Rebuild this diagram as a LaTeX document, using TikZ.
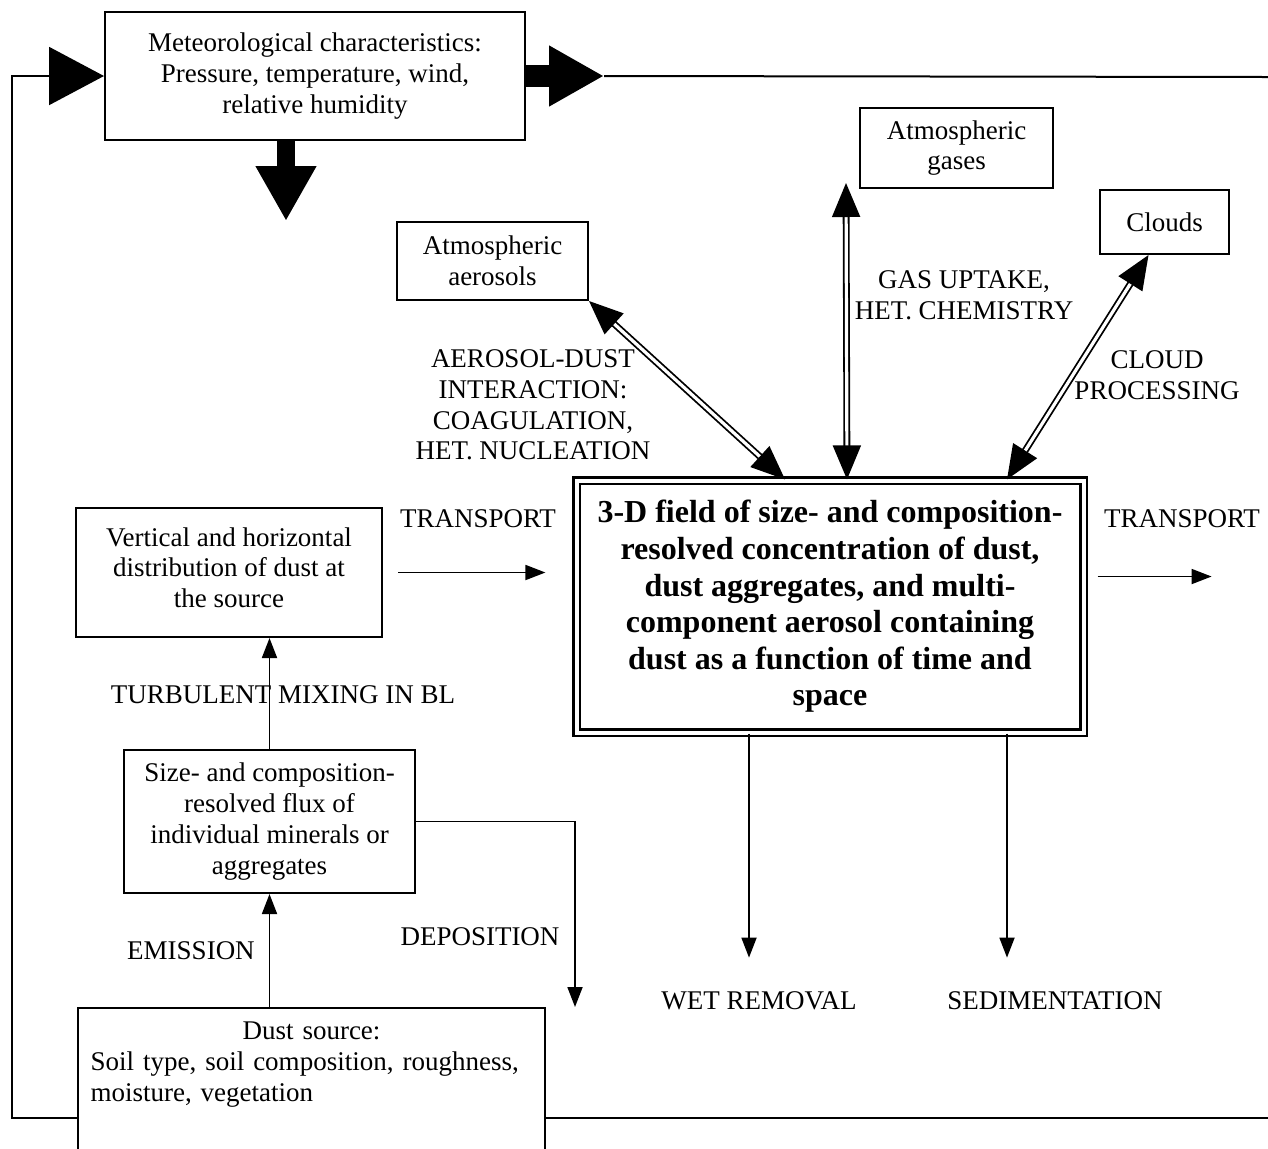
\documentclass[tikz,border=0pt]{standalone}
\usepackage{fontspec}
\setmainfont{Liberation Serif}
\usetikzlibrary{arrows.meta}

\begin{document}
\begin{tikzpicture}[x=0.5pt, y=-0.5pt, font=\fontsize{13.5}{15.4}\selectfont,
    box/.style = {draw, line width=1pt, align=center, inner sep=2pt},
    mainbox/.style = {draw, double, double distance=2pt, line width=1.1pt, align=center, font=\bfseries\fontsize{16}{18.3}\selectfont},
    lbl/.style = {align=center, inner sep=0pt},
    arr/.style = {line width=0.9pt, -{Triangle[length=10pt, width=7.5pt]}},
    dblarr/.style = {double, double distance=1.6pt, line width=0.9pt, {Triangle[length=17pt, width=14pt]}-{Triangle[length=17pt, width=14pt]}},
    bigarr/.style = {line width=11pt, -{Triangle[length=27.5pt, width=28.5pt]}}]

    \useasboundingbox (0,0) rectangle (1268,1148);

    % boxes
    \node[box, minimum width=210pt, minimum height=64pt] (met) at (315,76) {Meteorological characteristics:\\Pressure, temperature, wind,\\relative humidity};
    \node[box, minimum width=95.5pt, minimum height=39pt] (aer) at (492.5,261) {Atmospheric\\aerosols};
    \node[box, minimum width=96.5pt, minimum height=40pt] (gas) at (956.5,148) {Atmospheric\\gases};
    \node[box, minimum width=64.5pt, minimum height=32pt] (cld) at (1164.5,222) {Clouds};
    \node[mainbox, minimum width=253.5pt, minimum height=126pt] (main) at (830,606.5) {3-D field of size- and composition-\\resolved concentration of dust,\\dust aggregates, and multi-\\component aerosol containing\\dust as a function of time and\\space};
    \node[box, minimum width=153pt, minimum height=64.5pt, text depth=5pt] (vert) at (229,572.5) {Vertical and horizontal\\distribution of dust at\\the source};
    \node[box, minimum width=145.5pt, minimum height=71.5pt] (flux) at (269.5,821.5) {Size- and composition-\\resolved flux of\\individual minerals or\\aggregates};
    \node[box, anchor=north, align=left, text width=221pt, inner xsep=6.25pt, inner ysep=7pt, text depth=65pt] (dust) at (311.5,1007) {\hfill Dust source:\hfill\null\\\mbox{Soil type, soil composition, roughness,}\\moisture, vegetation};

    % labels
    \node[lbl] (lblaer) at (533,405) {AEROSOL-DUST\\INTERACTION:\\COAGULATION,\\HET. NUCLEATION};
    \node[lbl] (lblgas) at (964,295) {GAS UPTAKE,\\HET. CHEMISTRY};
    \node[lbl] (lblcld) at (1157,375) {CLOUD\\PROCESSING};
    \node[lbl] (lbltrl) at (478,519) {TRANSPORT};
    \node[lbl] (lbltrr) at (1182,519) {TRANSPORT};
    \node[lbl] (lblturb) at (283,695) {TURBULENT MIXING IN BL};
    \node[lbl] (lblemi) at (191,951) {EMISSION};
    \node[lbl] (lbldep) at (480,937) {DEPOSITION};
    \node[lbl] (lblwet) at (759,1001) {WET REMOVAL};
    \node[lbl] (lblsed) at (1055,1001) {SEDIMENTATION};

    % free ends
    \coordinate (fbl) at (12,1118);
    \coordinate (fbr) at (1268,1118);
    \coordinate (topr) at (1268,77);
    \coordinate (depo) at (575,1007);

    % meteorology arrows
    \draw[line width=1pt, -{Triangle[length=27.5pt, width=29pt]}] (dust.west |- fbl) -- (fbl) |- (met.west);
    \draw[line width=1pt] (dust.east |- fbr) -- (fbr);
    \draw[bigarr] (met.east) -- ++(78,0) coordinate (metr);
    \draw[line width=1pt] (metr) -- (topr);
    \draw[bigarr, line width=9pt] ([xshift=-14.5pt]met.south) -- ++(0,80);

    % exchange with the atmosphere
    \draw[dblarr] (aer.south east) -- ([xshift=-22.5pt]main.north);
    \draw[dblarr] ([xshift=-6.5pt,yshift=3pt]gas.south west) -- ([xshift=8.5pt]main.north);
    \draw[dblarr] ([xshift=-8pt]cld.south) -- ([xshift=88.5pt]main.north);

    % source chain
    \draw[arr] (flux.south |- dust.north) -- (flux.south);
    \draw[arr] (flux.north) -- (flux.north |- vert.south);
    \draw[arr] (flux.east) -| (depo);
    \draw[arr] ([xshift=7.5pt]vert.east) -- ([xshift=-15pt]vert.east -| main.west);

    % removal and transport
    \draw[arr] ([xshift=6.5pt,yshift=15pt]main.east) -- ++(114,0);
    \draw[arr] ([xshift=-40.5pt]main.south) -- ++(0,224);
    \draw[arr] ([xshift=88.5pt]main.south) -- ++(0,224);

\end{tikzpicture}
\end{document}
